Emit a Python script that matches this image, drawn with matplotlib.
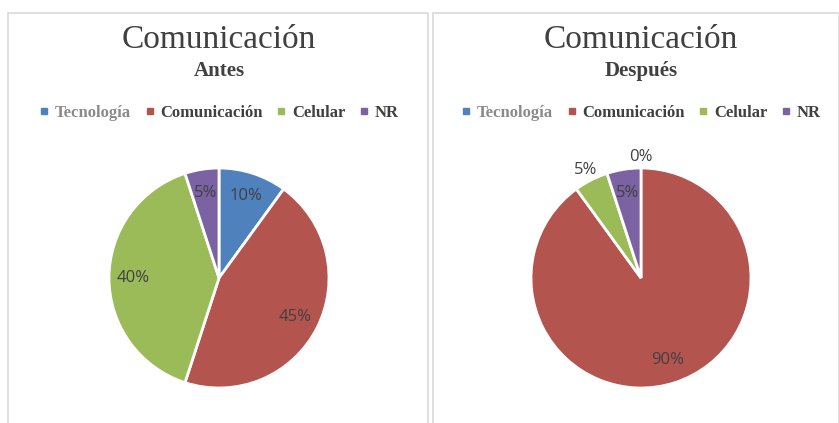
import numpy as np
import matplotlib
matplotlib.use("Agg")
import matplotlib.pyplot as plt
from matplotlib.lines import Line2D
from matplotlib.patches import Rectangle

categories = ["Tecnología", "Comunicación", "Celular", "NR"]
antes = [10, 45, 40, 5]
despues = [0, 90, 5, 5]
titles = ["Comunicación", "Comunicación"]
subtitles = ["Antes", "Después"]
colors = ["#4F81BD", "#B3544F", "#9BBB59", "#7B62A3"]
legend_text_colors = ["#8a8a8a", "#404040", "#404040", "#404040"]

W, H = 839, 423
fig = plt.figure(figsize=(W / 100, H / 100), dpi=100)

# panel borders
for x0, x1 in [(8, 428), (433, 839)]:
    fig.add_artist(Rectangle((x0 / W, -0.01), (x1 - x0) / W, (H - 13) / H + 0.01,
                             transform=fig.transFigure, fill=False,
                             edgecolor="#d9d9d9", linewidth=1.2))

def draw(cx, values, title, subtitle, outside):
    r = 110
    ax = fig.add_axes([(cx - r) / W, (H - 278 - r) / H, 2 * r / W, 2 * r / H])
    wedges, texts = ax.pie(values, colors=colors, startangle=90, counterclock=False,
                           radius=1, wedgeprops=dict(edgecolor="white", linewidth=2))
    ax.set_xlim(-1, 1)
    ax.set_ylim(-1, 1)
    ax.set_aspect("equal")
    ax.axis("off")
    for i, (w, v) in enumerate(zip(wedges, values)):
        ang = np.deg2rad((w.theta1 + w.theta2) / 2)
        d = 1.1 if i in outside else 0.78
        ax.text(d * np.cos(ang), d * np.sin(ang), f"{v}%", ha="center", va="center",
                fontsize=12, color="#404040", family="Open Sans")
    fig.text(cx / W, 1 - 40 / H, title, ha="center", va="center",
             fontsize=24, color="#404040", family="Liberation Serif")
    fig.text(cx / W, 1 - 71 / H, subtitle, ha="center", va="center",
             fontsize=15, color="#404040", family="Liberation Serif", weight="bold")
    handles = [Line2D([], [], marker="s", linestyle="none", markersize=4.5,
                      markerfacecolor=c, markeredgecolor=c) for c in colors]
    leg = fig.legend(handles, categories, loc="center", ncol=4,
                     bbox_to_anchor=(cx / W, 1 - 113 / H), frameon=False,
                     handlelength=0.6, handletextpad=0.35, columnspacing=0.8,
                     prop=dict(family="Liberation Serif", weight="bold", size=12))
    for t, c in zip(leg.get_texts(), legend_text_colors):
        t.set_color(c)

draw(219, antes, titles[0], subtitles[0], [])
draw(641, despues, titles[1], subtitles[1], [0, 2])

fig.savefig("out.png", dpi=100)
